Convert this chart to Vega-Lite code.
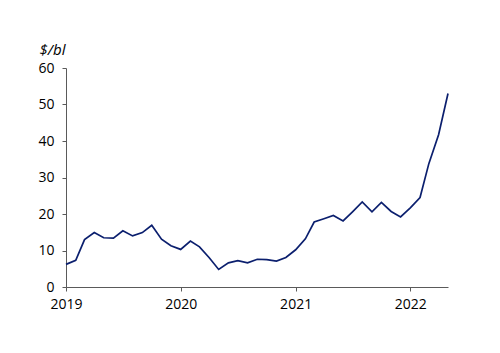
{
  "$schema": "https://vega.github.io/schema/vega-lite/v6.json",
  "autosize": "none",
  "width": 382,
  "height": 219,
  "padding": {"left": 66, "top": 68, "right": 52, "bottom": 66},
  "background": "white",
  "config": {"view": {"stroke": null}, "font": "Open Sans"},
  "data": {"values": [
    {"date": "2019-01-01", "v": 6.2},
    {"date": "2019-02-01", "v": 7.3},
    {"date": "2019-03-01", "v": 13.0},
    {"date": "2019-04-01", "v": 14.9},
    {"date": "2019-05-01", "v": 13.5},
    {"date": "2019-06-01", "v": 13.4},
    {"date": "2019-07-01", "v": 15.4},
    {"date": "2019-08-01", "v": 14.0},
    {"date": "2019-09-01", "v": 14.9},
    {"date": "2019-10-01", "v": 16.9},
    {"date": "2019-11-01", "v": 13.1},
    {"date": "2019-12-01", "v": 11.3},
    {"date": "2020-01-01", "v": 10.3},
    {"date": "2020-02-01", "v": 12.6},
    {"date": "2020-03-01", "v": 11.0},
    {"date": "2020-04-01", "v": 8.0},
    {"date": "2020-05-01", "v": 4.8},
    {"date": "2020-06-01", "v": 6.6},
    {"date": "2020-07-01", "v": 7.2},
    {"date": "2020-08-01", "v": 6.6},
    {"date": "2020-09-01", "v": 7.6},
    {"date": "2020-10-01", "v": 7.5},
    {"date": "2020-11-01", "v": 7.1},
    {"date": "2020-12-01", "v": 8.1},
    {"date": "2021-01-01", "v": 10.2},
    {"date": "2021-02-01", "v": 13.2},
    {"date": "2021-03-01", "v": 17.8},
    {"date": "2021-04-01", "v": 18.7},
    {"date": "2021-05-01", "v": 19.6},
    {"date": "2021-06-01", "v": 18.1},
    {"date": "2021-07-01", "v": 20.6},
    {"date": "2021-08-01", "v": 23.3},
    {"date": "2021-09-01", "v": 20.6},
    {"date": "2021-10-01", "v": 23.2},
    {"date": "2021-11-01", "v": 20.7},
    {"date": "2021-12-01", "v": 19.2},
    {"date": "2022-01-01", "v": 21.7},
    {"date": "2022-02-01", "v": 24.5},
    {"date": "2022-03-01", "v": 33.8},
    {"date": "2022-04-01", "v": 41.7},
    {"date": "2022-05-01", "v": 53.0}
  ]},
  "mark": {"type": "line", "color": "#0b1f6e", "strokeWidth": 1.7},
  "encoding": {
    "x": {
      "field": "date",
      "type": "temporal",
      "scale": {"domain": [{"year": 2019, "month": 1, "date": 1}, {"year": 2022, "month": 5, "date": 1}]},
      "axis": {
        "title": null,
        "format": "%Y",
        "values": [{"year": 2019, "month": 1, "date": 1}, {"year": 2020, "month": 1, "date": 1}, {"year": 2021, "month": 1, "date": 1}, {"year": 2022, "month": 1, "date": 1}],
        "grid": false,
        "domainColor": "#5a5a5a",
        "tickColor": "#5a5a5a",
        "tickSize": 4,
        "labelFontSize": 14,
        "labelColor": "#000000",
        "labelPadding": 6,
        "labelFlush": false
      }
    },
    "y": {
      "field": "v",
      "type": "quantitative",
      "scale": {"domain": [0, 60]},
      "axis": {
        "title": "$/bl",
        "titleAngle": 0,
        "titleAlign": "left",
        "titleBaseline": "alphabetic",
        "titleX": -27,
        "titleY": -14,
        "titleFontStyle": "italic",
        "titleFontWeight": "normal",
        "titleFontSize": 15,
        "titleColor": "#000000",
        "values": [0, 10, 20, 30, 40, 50, 60],
        "grid": false,
        "domainColor": "#5a5a5a",
        "tickColor": "#5a5a5a",
        "tickSize": 4,
        "labelFontSize": 14,
        "labelColor": "#000000",
        "labelPadding": 8
      }
    }
  }
}
